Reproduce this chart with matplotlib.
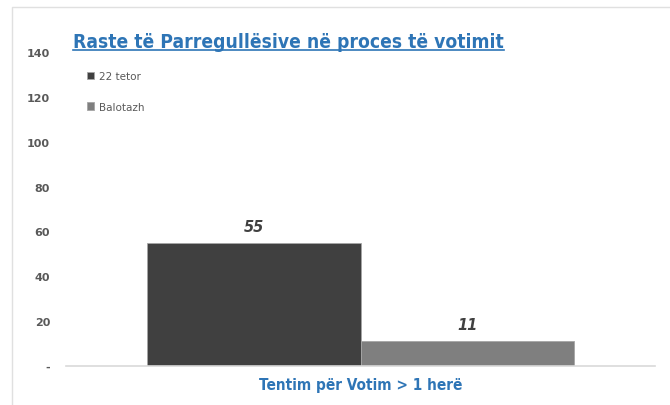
import matplotlib.pyplot as plt
from matplotlib.lines import Line2D

# Të dhënat
kategori = ["Tentim për Votim > 1 herë"]
seri = ["22 tetor", "Balotazh"]
vlera_22_tetor = [55]
vlera_balotazh = [11]
ngjyra = ["#404040", "#7f7f7f"]
yticks = [0, 20, 40, 60, 80, 100, 120, 140]
ytick_labels = ["-", "20", "40", "60", "80", "100", "120", "140"]

blu = "#2e75b6"

fig = plt.figure(figsize=(6.7, 4.06), dpi=100)
ax = fig.add_axes([66 / 670, 39 / 406, 589 / 670, 314 / 406])

w = 0.362
x = [0]
b1 = ax.bar([p - w / 2 for p in x], vlera_22_tetor, w, color=ngjyra[0],
            edgecolor="#a6a6a6", linewidth=0.6, label=seri[0])
b2 = ax.bar([p + w / 2 for p in x], vlera_balotazh, w, color=ngjyra[1],
            edgecolor="#a6a6a6", linewidth=0.6, label=seri[1])

for bars in (b1, b2):
    for r in bars:
        ax.text(r.get_x() + r.get_width() / 2, r.get_height() + 4,
                f"{r.get_height():.0f}", ha="center", va="bottom",
                fontsize=10.5, fontweight="bold", fontstyle="italic", color="#404040")

ax.set_xlim(-0.5, 0.5)
ax.set_ylim(0, 140)
ax.set_yticks(yticks)
ax.set_yticklabels(ytick_labels, fontsize=8, fontweight="bold", color="#595959")
ax.tick_params(axis="y", length=0, pad=11.5)
ax.set_xticks(x)
ax.set_xticklabels(kategori, fontsize=11, fontweight="bold", color=blu,
                   fontstretch="condensed")
ax.tick_params(axis="x", length=0, pad=8)

for s in ["top", "right", "left"]:
    ax.spines[s].set_visible(False)
ax.spines["bottom"].set_color("#d9d9d9")
ax.spines["bottom"].set_linewidth(1.2)

leg = ax.legend(loc="upper left", bbox_to_anchor=(0.02, 0.97), frameon=False,
                fontsize=7.5, handlelength=0.7, handleheight=0.7,
                handletextpad=0.4, labelspacing=2.0, labelcolor="#595959")

# Titulli me nënvizim
t = fig.text(73 / 670, 1 - 42 / 406, "Raste të Parregullësive në proces të votimit",
             fontsize=13.8, fontweight="bold", color=blu, fontstretch="condensed",
             ha="left", va="center")
fig.canvas.draw()
bb = t.get_window_extent().transformed(fig.transFigure.inverted())
fig.add_artist(Line2D([bb.x0, bb.x1], [bb.y0 + 0.002, bb.y0 + 0.002],
                      color=blu, linewidth=1.2, transform=fig.transFigure))

# Korniza e imazhit
fig.add_artist(Line2D([12 / 670, 12 / 670, 1], [0, 1 - 8 / 406, 1 - 8 / 406],
                      color="#e0e0e0", linewidth=1, transform=fig.transFigure))

fig.savefig("out.png", dpi=100)
